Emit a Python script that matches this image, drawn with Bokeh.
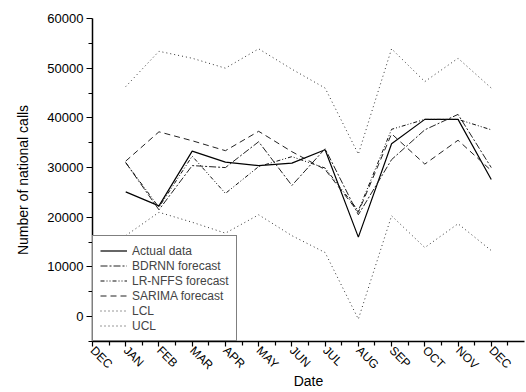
import math
from bokeh.plotting import figure
from bokeh.models import FixedTicker, Range1d, Legend, LegendItem
from bokeh.embed import file_html
from bokeh.resources import INLINE

tick_labels = ["DEC", "JAN", "FEB", "MAR", "APR", "MAY", "JUN", "JUL", "AUG", "SEP", "OCT", "NOV", "DEC"]
months = ["JAN", "FEB", "MAR", "APR", "MAY", "JUN", "JUL", "AUG", "SEP", "OCT", "NOV", "DEC"]

actual = [25100, 22300, 33300, 31100, 30400, 30900, 33600, 16000, 34800, 39700, 39700, 27600]
bdrnn = [31000, 21500, 30400, 30000, 35200, 26400, 33800, 20500, 31600, 37600, 40700, 30000]
lrnffs = [31000, 22000, 32300, 24800, 30200, 32200, 29900, 21300, 37700, 39700, 39700, 37600]
sarima = [31300, 37200, 35400, 33400, 37300, 33200, 29600, 21000, 36800, 30700, 35500, 29400]
lcl = [16300, 21000, 19000, 16800, 20500, 16300, 12900, -500, 20300, 13900, 18700, 13300]
ucl = [46300, 53400, 52000, 50000, 53900, 49800, 46000, 32700, 53900, 47300, 52000, 46000]

xs = list(range(1, len(months) + 1))

FONT = "Liberation Sans"

p = figure(width=526, height=392, output_backend="svg", toolbar_location=None,
           x_range=Range1d(0, 13), y_range=Range1d(-5000, 60000),
           min_border_left=92, min_border_right=2, min_border_top=18, min_border_bottom=51)
p.outline_line_color = None
p.xgrid.visible = False
p.ygrid.visible = False

series = [
    ("Actual data", actual, None, "#000000", 1.2),
    ("BDRNN forecast", bdrnn, "7 2 2 2", "#222222", 1.0),
    ("LR-NFFS forecast", lrnffs, "4 2 1 2 1 2", "#111111", 1.0),
    ("SARIMA forecast", sarima, "6 4", "#222222", 1.0),
    ("LCL", lcl, "1 3", "#333333", 1.0),
    ("UCL", ucl, "1 3", "#333333", 1.0),
]
items = []
for name, ys, dash, col, w in series:
    kw = dict(line_color=col, line_width=w)
    if dash:
        kw["line_dash"] = dash
    r = p.line(xs, ys, **kw)
    items.append(LegendItem(label=name, renderers=[r]))

legend = Legend(items=items, location="bottom_left", margin=0, padding=7,
                spacing=0, label_height=15, glyph_height=15, glyph_width=27,
                label_standoff=5, border_line_color="black", border_line_width=1.2,
                label_text_font=FONT, label_text_font_size="12px",
                background_fill_alpha=1.0)
p.add_layout(legend, "center")

# x axis
p.xaxis.ticker = FixedTicker(ticks=list(range(len(tick_labels))),
                             minor_ticks=[i + 0.5 for i in range(len(tick_labels))])
p.xaxis.major_label_overrides = {i: t for i, t in enumerate(tick_labels)}
p.xaxis.major_label_orientation = -math.pi / 4
p.xaxis.axis_label = "Date"

# y axis
p.yaxis.ticker = FixedTicker(ticks=[0, 10000, 20000, 30000, 40000, 50000, 60000],
                             minor_ticks=[-5000, 5000, 15000, 25000, 35000, 45000, 55000])
p.yaxis.axis_label = "Number of national calls"
p.yaxis.formatter.use_scientific = False

for ax in (p.xaxis[0], p.yaxis[0]):
    ax.axis_line_width = 1.5
    ax.axis_line_color = "black"
    ax.major_tick_line_color = "black"
    ax.minor_tick_line_color = "black"
    ax.major_tick_line_width = 1.2
    ax.minor_tick_line_width = 1.2
    ax.major_tick_in = 0
    ax.minor_tick_in = 0
    ax.major_label_text_font = FONT
    ax.major_label_text_color = "black"
    ax.axis_label_text_font = FONT
    ax.axis_label_text_font_size = "14px"
    ax.axis_label_text_font_style = "normal"
    ax.axis_label_text_color = "black"

p.xaxis.major_tick_out = 5
p.xaxis.minor_tick_out = 4
p.xaxis.major_label_text_font_size = "12px"
p.xaxis.major_label_standoff = 2
p.xaxis.axis_label_standoff = -7

p.yaxis.major_tick_out = 6
p.yaxis.minor_tick_out = 4
p.yaxis.major_label_text_font_size = "13px"
p.yaxis.major_label_standoff = 3
p.yaxis.axis_label_standoff = 13

open("out.html", "w").write(file_html(p, INLINE))
